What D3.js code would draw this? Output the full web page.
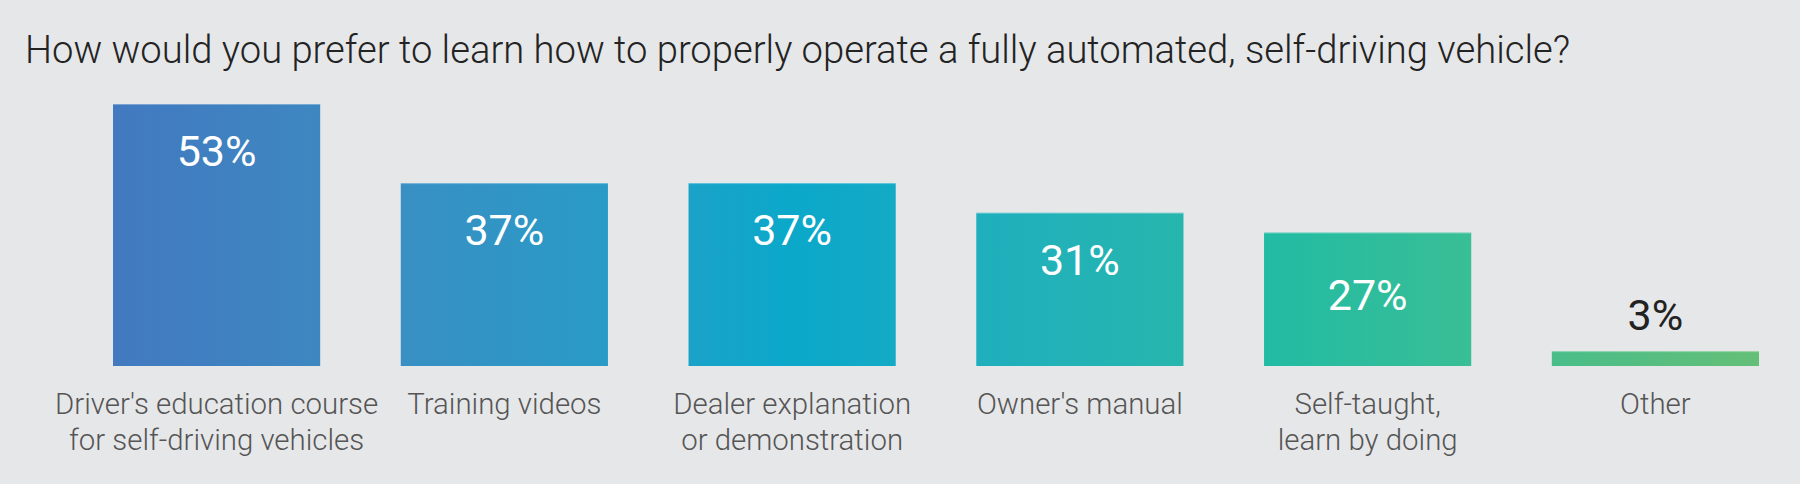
<!DOCTYPE html>
<html>
<head>
<meta charset="utf-8">
<script src="https://cdn.jsdelivr.net/npm/d3@7"></script>
<style>
  html, body { margin: 0; padding: 0; background: #e6e7e9; }
  svg { display: block; }
</style>
</head>
<body>
<svg id="chart" width="1800" height="484"></svg>
<script>
const title = "How would you prefer to learn how to properly operate a fully automated, self-driving vehicle?";
const categories = [
  ["Driver's education course", "for self-driving vehicles"],
  ["Training videos"],
  ["Dealer explanation", "or demonstration"],
  ["Owner's manual"],
  ["Self-taught,", "learn by doing"],
  ["Other"]
];
const values = [53, 37, 37, 31, 27, 3];
const valueLabels = ["53%", "37%", "37%", "31%", "27%", "3%"];
const gradientStops = [
  [0.00, "#4279c0"], [0.13, "#3d88c1"], [0.18, "#3890c3"], [0.30, "#299bc6"],
  [0.36, "#18a3c9"], [0.41, "#0ba8ca"], [0.48, "#14aac5"], [0.53, "#1fafbd"],
  [0.65, "#27b6ad"], [0.70, "#22bba4"], [0.82, "#38be96"], [0.87, "#48bd8a"],
  [1.00, "#64bf77"]
];

const svg = d3.select("#chart");
const W = 1800, H = 484;
svg.append("rect").attr("width", W).attr("height", H).attr("fill", "#e6e7e9");

const x = d3.scaleBand().domain(d3.range(values.length)).range([113, 1759]).paddingInner(0.28).paddingOuter(0);
const y = d3.scaleLinear().domain([0, 53]).range([366, 104]);

const defs = svg.append("defs");
const grad = defs.append("linearGradient").attr("id", "g").attr("gradientUnits", "userSpaceOnUse")
  .attr("x1", x.range()[0]).attr("x2", x.range()[1]).attr("y1", 0).attr("y2", 0);
grad.selectAll("stop").data(gradientStops).join("stop")
  .attr("offset", d => d[0]).attr("stop-color", d => d[1]);

svg.append("text").attr("x", 25).attr("y", 63)
  .attr("font-family", "Roboto").attr("font-weight", 300).attr("font-size", 38.2)
  .attr("fill", "#232323").text(title);

const g = svg.append("g");
g.selectAll("rect.bar").data(values).join("rect").attr("class", "bar")
  .attr("x", (d, i) => x(i)).attr("width", x.bandwidth())
  .attr("y", d => y(d)).attr("height", d => y(0) - y(d))
  .attr("fill", "url(#g)");

// subtle top highlight
g.selectAll("line.hl").data(values).join("line").attr("class", "hl")
  .attr("x1", (d, i) => x(i)).attr("x2", (d, i) => x(i) + x.bandwidth())
  .attr("y1", d => y(d) + 0.5).attr("y2", d => y(d) + 0.5)
  .attr("stroke", "#ffffff").attr("stroke-opacity", 0.3).attr("stroke-width", 1);

const valSize = 43;
function labelY(d) {
  const top = y(d), h = y(0) - y(d);
  if (d < 10) return top - 21;          // outside, above the thin bar
  if (h < 140) return top + h / 2 + 11; // short bar: vertically centred
  return top + 62;                       // tall bar: near the top
}
g.selectAll("text.val").data(values).join("text").attr("class", "val")
  .attr("x", (d, i) => x(i) + x.bandwidth() / 2)
  .attr("y", labelY)
  .attr("text-anchor", "middle")
  .attr("font-family", "Roboto").attr("font-size", valSize)
  .attr("fill", d => d < 10 ? "#222222" : "#ffffff")
  .text((d, i) => valueLabels[i]);

const lab = g.selectAll("text.cat").data(categories).join("text").attr("class", "cat")
  .attr("x", (d, i) => x(i) + x.bandwidth() / 2)
  .attr("y", 414)
  .attr("text-anchor", "middle")
  .attr("font-family", "Roboto").attr("font-weight", 300).attr("font-size", 29.4)
  .attr("fill", "#555555");
lab.selectAll("tspan").data(d => d).join("tspan")
  .attr("x", function() { return this.parentNode.getAttribute("x"); })
  .attr("dy", (d, i) => i === 0 ? 0 : 35.5)
  .text(d => d);
</script>
</body>
</html>
